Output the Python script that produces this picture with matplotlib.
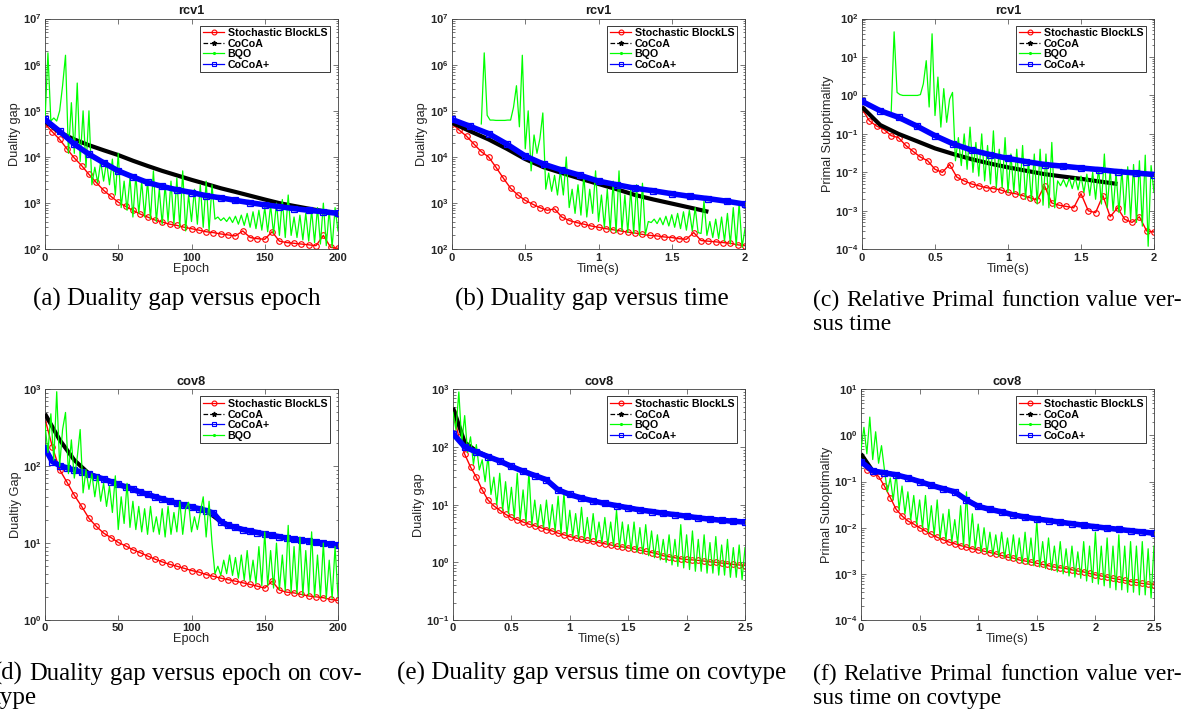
import numpy as np
import matplotlib
matplotlib.use("Agg")
import matplotlib.pyplot as plt
from matplotlib.lines import Line2D
from matplotlib.ticker import LogLocator, FuncFormatter, NullFormatter

# ---- data --------------------------------------------------------------
# (a) rcv1, duality gap vs epoch
a_red = [5.2e4, 3.5e4, 2.4e4, 1.5e4, 9.5e3, 6.5e3, 4.2e3, 2.8e3, 1.9e3, 1.4e3,
         1.05e3, 850, 700, 580, 500, 430, 390, 350, 330, 300,
         280, 260, 240, 230, 215, 205, 195, 250, 180, 170,
         165, 240, 150, 140, 135, 130, 125, 120, 200, 110, 105]
a_black = [6.0e4, 3.4e4, 2.4e4, 1.8e4, 1.4e4, 1.1e4, 8.3e3, 6.4e3, 5.0e3, 4.0e3, 3.2e3,
           2.6e3, 2.1e3, 1.75e3, 1.45e3, 1.2e3, 1.0e3, 870, 760, 670, 600]
a_blue = [6.5e4, 3.6e4, 1.9e4, 1.15e4, 7.5e3, 5.0e3, 3.7e3, 2.8e3, 2.3e3, 1.95e3, 1.7e3,
          1.45e3, 1.3e3, 1.15e3, 1.02e3, 920, 840, 760, 700, 650, 600]
a_green = [6e4, 1.8e6, 6e4, 7e4, 6e4, 1e5, 3.5e5, 1.6e6, 1.2e4, 1.5e5,
           1.2e4, 4e5, 8e3, 1e5, 6e3, 1e5, 2.5e3, 6e3, 2.8e3, 8e3,
           3e3, 8e3, 2.5e3, 9e3, 1.5e3, 1.2e4, 800, 3e3, 700, 3.5e3,
           500, 4e3, 600, 3e3, 500, 3e3, 450, 5e3, 400, 2e3,
           350, 2.5e3, 400, 3e3, 350, 3.5e3, 300, 5e3, 250, 1.5e3,
           400, 2e3, 350, 2.5e3, 300, 3e3, 250, 2.5e3, 450, 500,
           420, 480, 400, 500, 380, 520, 350, 550, 330, 600,
           300, 650, 280, 700, 260, 800, 240, 900, 220, 1e3,
           200, 1.2e3, 180, 1.5e3, 200, 500, 180, 550, 160, 600,
           150, 700, 140, 800, 130, 1e3, 120, 700, 110, 800, 250]

# (b) rcv1, duality gap vs time
b_red = [5.3e4, 3.8e4, 2.8e4, 1.9e4, 1.3e4, 1.0e4, 6e3, 3.5e3, 2.1e3, 1.5e3,
         1.15e3, 950, 800, 700, 750, 500, 420, 380, 350, 320,
         300, 280, 265, 250, 235, 225, 210, 200, 195, 185,
         180, 170, 165, 230, 155, 150, 145, 140, 135, 125, 120]
b_black = [5.5e4, 3.6e4, 2.4e4, 1.5e4, 9e3, 6e3, 4.5e3, 3.4e3, 2.6e3, 2e3, 1.5e3,
           1.2e3, 980, 800, 650]
b_blue = [6.5e4, 4.6e4, 3.2e4, 1.9e4, 1.05e4, 7e3, 5.2e3, 4e3, 3e3, 2.5e3, 2.1e3,
          1.85e3, 1.6e3, 1.4e3, 1.25e3, 1.1e3, 950]
b_green = [5.2e4, 1.8e6, 8e4, 6.3e4, 6.3e4, 6.2e4, 6.2e4, 6.2e4, 6.2e4, 6.3e4,
           6.3e4, 1.2e5, 3.5e5, 4.5e4, 1.6e6, 1.5e4, 1e5, 5e3, 3e4, 1.2e4,
           2.5e4, 9e4, 2e3, 4.5e3, 1.8e3, 4e3, 1.5e3, 5e3, 1.5e3, 1e4,
           800, 2e3, 600, 2.5e3, 550, 4e3, 500, 2e3, 600, 5e3,
           400, 1.5e3, 300, 2e3, 250, 3e3, 230, 5e3, 250, 1.5e3,
           230, 2e3, 220, 2.5e3, 200, 2.7e3, 210, 400, 380, 450,
           360, 480, 340, 520, 320, 560, 300, 600, 280, 650,
           260, 700, 250, 800, 230, 220, 1.1e3, 200, 400, 180,
           450, 170, 500, 150, 600, 130, 800, 120, 1e3, 110, 280]

# (c) rcv1, primal suboptimality vs time
c_red = [0.45, 0.22, 0.16, 0.13, 0.09, 0.08, 0.05, 0.035, 0.025, 0.02,
         0.012, 0.01, 0.016, 0.0075, 0.006, 0.005, 0.0045, 0.004, 0.0038, 0.0035,
         0.003, 0.0028, 0.0025, 0.0022, 0.0019, 0.0045, 0.0016, 0.0014, 0.0013, 0.0012,
         0.0028, 0.001, 0.0009, 0.0025, 0.0007, 0.0012, 0.0006, 0.0005, 0.0007, 0.0003, 0.00028]
c_black = [0.5, 0.17, 0.1, 0.065, 0.042, 0.03, 0.022, 0.017, 0.0135, 0.011, 0.009,
           0.0078, 0.0068, 0.0058, 0.005]
c_blue = [0.7, 0.4, 0.27, 0.16, 0.09, 0.055, 0.038, 0.029, 0.023, 0.019, 0.016,
          0.0145, 0.013, 0.0118, 0.0105, 0.0096, 0.0088]
c_green = [0.37, 45, 1.2, 1.05, 1.0, 1.0, 1.0, 1.0, 1.0, 1.0,
           1.05, 2.0, 8, 0.5, 40, 0.3, 3, 0.15, 1.5, 0.2,
           0.8, 1.2, 0.02, 0.08, 0.015, 0.1, 0.012, 0.15, 0.01, 0.06,
           0.008, 0.1, 0.006, 0.05, 0.005, 0.12, 0.004, 0.04, 0.004, 0.08,
           0.003, 0.03, 0.003, 0.04, 0.0025, 0.05, 0.002, 0.02, 0.0018, 0.03,
           0.0015, 0.04, 0.0014, 0.03, 0.0012, 0.06, 0.0012, 0.006, 0.0045, 0.0065,
           0.0042, 0.007, 0.0038, 0.0075, 0.0035, 0.008, 0.003, 0.009, 0.0025, 0.01,
           0.002, 0.013, 0.0015, 0.03, 0.0012, 0.012, 0.001, 0.01, 0.0009, 0.012,
           0.0008, 0.014, 0.0006, 0.016, 0.0005, 0.02, 0.0004, 0.028, 0.00012, 0.015, 0.003]

# (d) cov8, duality gap vs epoch
d_red = [410, 180, 90, 62, 42, 30, 21, 16.5, 13.5, 11.8,
         10.2, 9.2, 8.2, 7.5, 6.8, 6.2, 5.7, 5.3, 5.0, 4.7,
         4.4, 4.2, 3.9, 3.7, 3.5, 3.35, 3.2, 3.05, 2.9, 2.75,
         2.6, 3.2, 2.45, 2.3, 2.25, 2.15, 2.05, 2.0, 1.95, 1.85, 1.8]
d_black = [480, 220, 120, 80, 68, 58, 50, 43, 37.5, 33, 29.5,
           26.5, 19, 16, 14.3, 13.1, 12.1, 11.2, 10.6, 9.9, 9.4]
d_blue = [170, 115, 102, 95, 89, 84, 78, 73, 68, 63,
          58, 54, 50, 46, 43, 40, 37.5, 35, 33, 31,
          29.5, 28, 26.5, 24.5, 19, 17, 16, 15, 14.3, 13.7,
          13.1, 12.6, 12.1, 11.6, 11.2, 10.9, 10.6, 10.2, 9.9, 9.7, 9.4]
d_green = [350, 150, 480, 120, 930, 100, 300, 500, 80, 220,
           70, 130, 300, 45, 90, 50, 80, 40, 75, 35,
           60, 30, 55, 25, 75, 15, 40, 18, 60, 16,
           35, 15, 30, 14, 28, 13, 30, 14, 22, 13,
           28, 12, 30, 13, 25, 14, 35, 13, 28, 34,
           14, 22, 15, 25, 40, 12, 35, 10, 4, 5,
           3.8, 6, 4, 7, 3.8, 6.5, 3.5, 7, 3.3, 8,
           3.2, 6, 3, 9, 2.8, 14, 2.8, 8, 2.6, 10,
           2.5, 7, 2.4, 17, 2.3, 9, 2.2, 12, 2.1, 8,
           2.1, 14, 2, 7, 2, 10, 1.9, 6, 1.9, 9, 2]

# (e) cov8, duality gap vs time
e_red = [400, 150, 75, 45, 30, 18, 12, 9.5, 8.0, 6.8,
         6.0, 5.5, 5.0, 4.6, 4.3, 4.0, 3.7, 3.5, 3.2, 3.0,
         2.8, 2.65, 2.5, 2.4, 2.3, 2.2, 2.1, 2.0, 1.9, 1.85,
         1.78, 1.7, 1.62, 1.55, 1.48, 1.4, 1.3, 1.25, 1.2, 1.15,
         1.12, 1.1, 1.08, 1.05, 1.02, 1.0, 0.97, 0.95, 0.92, 0.9, 0.88]
e_black = [480, 120, 85, 68, 57, 46, 38, 32, 27, 18, 15, 13, 11.6,
           10.5, 9.6, 8.8, 8.1, 7.6, 7.1, 6.7, 6.3, 5.9, 5.6, 5.35, 5.15, 4.95]
e_blue = [170, 100, 82, 68, 57, 46, 38, 32, 27, 18, 15, 13, 11.6,
          10.5, 9.6, 8.8, 8.1, 7.6, 7.1, 6.7, 6.3, 5.9, 5.6, 5.35, 5.15, 5.0]
e_green = [400, 200, 900, 120, 350, 80, 150, 50, 110, 40,
           60, 25, 70, 15, 30, 10, 35, 8, 25, 7,
           20, 6, 35, 5.5, 18, 5, 38, 4.5, 12, 4.2,
           10, 4.0, 12, 3.8, 10, 3.5, 14, 3.2, 16, 3.0,
           8, 2.8, 7, 2.6, 9, 2.5, 6, 2.4, 7, 2.3,
           5, 2.2, 6, 2.0, 5, 1.9, 8, 1.8, 5, 1.7,
           4.5, 1.6, 5, 1.5, 4, 1.4, 4.5, 1.3, 3.5, 1.2,
           3, 1.1, 2.5, 1.0, 3, 0.9, 2.5, 0.85, 4.5, 0.8,
           3, 0.75, 3.5, 0.7, 2.5, 0.7, 3, 0.65, 2.2, 0.65,
           2.8, 0.6, 2.0, 0.6, 2.5, 0.55, 1.8, 0.55, 2.0, 0.5, 1.8]

# (f) cov8, primal suboptimality vs time
f_red = [0.32, 0.18, 0.155, 0.13, 0.08, 0.045, 0.025, 0.018, 0.014, 0.012,
         0.01, 0.0085, 0.0072, 0.0062, 0.0055, 0.0049, 0.0045, 0.0041, 0.0038, 0.0035,
         0.0033, 0.0031, 0.0029, 0.0027, 0.0025, 0.0023, 0.0022, 0.002, 0.0019, 0.0018,
         0.0017, 0.0016, 0.0015, 0.0014, 0.00135, 0.0013, 0.00122, 0.00115, 0.0011, 0.00102,
         0.00095, 0.0009, 0.00085, 0.0008, 0.00076, 0.00072, 0.00068, 0.00065, 0.00062, 0.0006, 0.00058]
f_black = [0.4, 0.17, 0.155, 0.14, 0.12, 0.1, 0.083, 0.07, 0.06, 0.04, 0.029, 0.025, 0.022,
           0.019, 0.017, 0.0155, 0.0143, 0.0132, 0.0122, 0.0113, 0.0105, 0.0098, 0.0092,
           0.0086, 0.0081, 0.0075]
f_blue = [0.27, 0.17, 0.155, 0.14, 0.12, 0.1, 0.083, 0.07, 0.06, 0.04, 0.029, 0.025, 0.022,
          0.019, 0.017, 0.0155, 0.0143, 0.0132, 0.0122, 0.0113, 0.0105, 0.0098, 0.0092,
          0.0086, 0.0081, 0.0076]
f_green = [0.5, 1.5, 0.4, 2.5, 0.3, 1.2, 0.25, 0.6, 0.18, 0.06,
           0.12, 0.04, 0.15, 0.025, 0.08, 0.02, 0.06, 0.015, 0.05, 0.012,
           0.04, 0.01, 0.05, 0.008, 0.03, 0.007, 0.04, 0.006, 0.02, 0.0055,
           0.025, 0.005, 0.015, 0.0045, 0.03, 0.004, 0.06, 0.0038, 0.02, 0.0035,
           0.012, 0.003, 0.01, 0.0028, 0.008, 0.0026, 0.007, 0.0024, 0.008, 0.0022,
           0.006, 0.002, 0.007, 0.0019, 0.006, 0.0017, 0.008, 0.0016, 0.006, 0.0015,
           0.014, 0.0014, 0.005, 0.0013, 0.006, 0.0012, 0.004, 0.0011, 0.005, 0.001,
           0.0035, 0.0009, 0.004, 0.00085, 0.003, 0.0008, 0.005, 0.0007, 0.004, 0.00065,
           0.008, 0.0006, 0.004, 0.00055, 0.006, 0.0005, 0.004, 0.00045, 0.007, 0.00045,
           0.004, 0.0004, 0.005, 0.0004, 0.004, 0.00035, 0.005, 0.00035, 0.0035, 0.0003, 0.004]

labels = {"red": "Stochastic BlockLS", "black": "CoCoA", "green": "BQO", "blue": "CoCoA+"}

# ---- style ---------------------------------------------------------------
plt.rcParams.update({
    "font.family": "Liberation Sans",
    "font.weight": "bold",
    "mathtext.fontset": "custom",
    "mathtext.bf": "Liberation Sans:bold",
    "mathtext.rm": "Liberation Sans:bold",
    "axes.linewidth": 0.6,
    "axes.edgecolor": "0.25",
})

W, H = 1195, 717
fig = plt.figure(figsize=(W / 100, H / 100), dpi=100)

style = {
    "red": dict(color="#ff0000", lw=1.0, marker="o", ms=4.0, mfc="none", mew=0.8),
    "black": dict(color="k", lw=3.0, solid_capstyle="butt"),
    "green": dict(color="#00ff00", lw=0.9),
    "blue": dict(color="#0000ff", lw=4.0, marker="s", ms=4.4, mfc="none", mew=0.9),
}
handles = {
    "red": Line2D([], [], color="#ff0000", lw=0.9, marker="o", ms=3.5, mfc="none", mew=0.8),
    "black": Line2D([], [], color="k", lw=0.9, ls="--", marker="*", ms=3.5),
    "green": Line2D([], [], color="#00ff00", lw=0.9, marker=".", ms=2.5),
    "blue": Line2D([], [], color="#0000ff", lw=0.9, marker="s", ms=3, mfc="none", mew=0.8),
}


def grid(lo, hi, vals):
    return np.linspace(lo, hi, len(vals))


def panel(box, title, xlabel, ylabel, xlim, xticks, ylim, series, order):
    l, t, r, b = box
    ax = fig.add_axes([l / W, 1 - b / H, (r - l) / W, (b - t) / H])
    for i, name in enumerate(order):
        x, y = series[name]
        ax.plot(x, y, zorder=2 + i, **style[name])
    ax.set_yscale("log")
    ax.set_xlim(*xlim)
    ax.set_ylim(*ylim)
    ax.set_xticks(xticks)
    ax.xaxis.set_major_formatter(FuncFormatter(lambda v, p: "%g" % v))
    ax.yaxis.set_major_locator(LogLocator(base=10, numticks=20))
    ax.yaxis.set_minor_locator(LogLocator(base=10, subs=np.arange(2, 10), numticks=20))
    ax.yaxis.set_major_formatter(FuncFormatter(lambda v, p: r"$\mathbf{10^{%d}}$" % round(np.log10(v))))
    ax.yaxis.set_minor_formatter(NullFormatter())
    ax.tick_params(which="both", direction="in", top=True, right=True, width=0.5,
                   labelsize=8, colors="0.25", labelcolor="0.15", pad=2.5)
    ax.tick_params(which="major", length=3.5)
    ax.tick_params(which="minor", length=1.8)
    ax.set_title(title, fontsize=9.2, fontweight="bold", pad=3, color="0.1")
    ax.set_xlabel(xlabel, fontsize=9.2, labelpad=0, color="0.15")
    ax.set_ylabel(ylabel, fontsize=9.2, labelpad=1, color="0.15")
    leg = ax.legend([handles[n] for n in order], [labels[n] for n in order],
                    loc="upper right", bbox_to_anchor=(1 - 8 / (r - l), 1 - 7 / (b - t)),
                    borderaxespad=0, fontsize=7.7, frameon=True, fancybox=False,
                    edgecolor="0.1", framealpha=1, labelspacing=0.05, handlelength=2.0,
                    handletextpad=0.3, borderpad=0.25, numpoints=1)
    leg.get_frame().set_linewidth(0.6)
    return ax


ORDER = ["red", "black", "green", "blue"]
panel((45, 18.5, 338, 249.3), "rcv1", "Epoch", "Duality gap", (0, 200), [0, 50, 100, 150, 200],
      (1e2, 1e7),
      {"red": (grid(0, 200, a_red), a_red), "black": (grid(0, 200, a_black), a_black),
       "green": (grid(0, 200, a_green), a_green), "blue": (grid(0, 200, a_blue), a_blue)}, ORDER)
panel((452, 18.5, 745, 249.3), "rcv1", "Time(s)", "Duality gap", (0, 2), [0, 0.5, 1, 1.5, 2],
      (1e2, 1e7),
      {"red": (grid(0, 2, b_red), b_red), "black": (grid(0, 1.75, b_black), b_black),
       "green": (grid(0.2, 2, b_green), b_green), "blue": (grid(0, 2, b_blue), b_blue)}, ORDER)
panel((862, 18.5, 1154, 249.3), "rcv1", "Time(s)", "Primal Suboptimality", (0, 2),
      [0, 0.5, 1, 1.5, 2], (1e-4, 1e2),
      {"red": (grid(0, 2, c_red), c_red), "black": (grid(0, 1.75, c_black), c_black),
       "green": (grid(0.2, 2, c_green), c_green), "blue": (grid(0, 2, c_blue), c_blue)}, ORDER)
panel((45, 389.3, 338, 620), "cov8", "Epoch", "Dualtiy Gap", (0, 200), [0, 50, 100, 150, 200],
      (1e0, 1e3),
      {"red": (grid(0, 200, d_red), d_red), "black": (grid(0, 200, d_black), d_black),
       "green": (grid(0, 200, d_green), d_green), "blue": (grid(0, 200, d_blue), d_blue)},
      ["red", "black", "blue", "green"])
panel((453, 389.3, 745, 620), "cov8", "Time(s)", "Duality gap", (0, 2.5),
      [0, 0.5, 1, 1.5, 2, 2.5], (1e-1, 1e3),
      {"red": (grid(0, 2.5, e_red), e_red), "black": (grid(0, 2.5, e_black), e_black),
       "green": (grid(0, 2.5, e_green), e_green), "blue": (grid(0, 2.5, e_blue), e_blue)}, ORDER)
panel((861, 389.3, 1154, 620), "cov8", "Time(s)", "Primal Suboptimality", (0, 2.5),
      [0, 0.5, 1, 1.5, 2, 2.5], (1e-4, 1e1),
      {"red": (grid(0, 2.5, f_red), f_red), "black": (grid(0, 2.5, f_black), f_black),
       "green": (grid(0, 2.5, f_green), f_green), "blue": (grid(0, 2.5, f_blue), f_blue)}, ORDER)

# ---- captions ------------------------------------------------------------
CAP = dict(family="Liberation Serif", fontweight="normal", va="baseline", color="k")
FS = 18
renderer = fig.canvas.get_renderer()


def caption(text, x, y, ha="left", fs=FS):
    fig.text(x / W, 1 - y / H, text, ha=ha, fontsize=fs, **CAP)


def justified(text, x0, x1, y, min_gap=6.5):
    # spread words over [x0, x1]; shrink the font a little if the line is too long
    words = text.split(" ")
    fs = FS
    while True:
        objs = [fig.text(0, 1 - y / H, w, ha="left", fontsize=fs, **CAP) for w in words]
        widths = [o.get_window_extent(renderer).width for o in objs]
        gap = (x1 - x0 - sum(widths)) / (len(words) - 1)
        if gap >= min_gap or fs < 14:
            break
        for o in objs:
            o.remove()
        fs -= 0.25
    x = x0
    for o, w in zip(objs, widths):
        o.set_x(x / W)
        x += w + gap
    return fs


caption("(a) Duality gap versus epoch", 177, 306, ha="center")
caption("(b) Duality gap versus time", 592, 306, ha="center")
fs_c = justified("(c) Relative Primal function value ver-", 813, 1182, 306)
caption("sus time", 813, 330, fs=fs_c)
justified("(d) Duality gap versus epoch on cov-", -6, 362, 680)
caption("type", -6, 704)
caption("(e) Duality gap versus time on covtype", 592, 680, ha="center")
fs_f = justified("(f) Relative Primal function value ver-", 813, 1182, 680)
caption("sus time on covtype", 813, 704, fs=fs_f)

fig.savefig("out.png", dpi=100)
